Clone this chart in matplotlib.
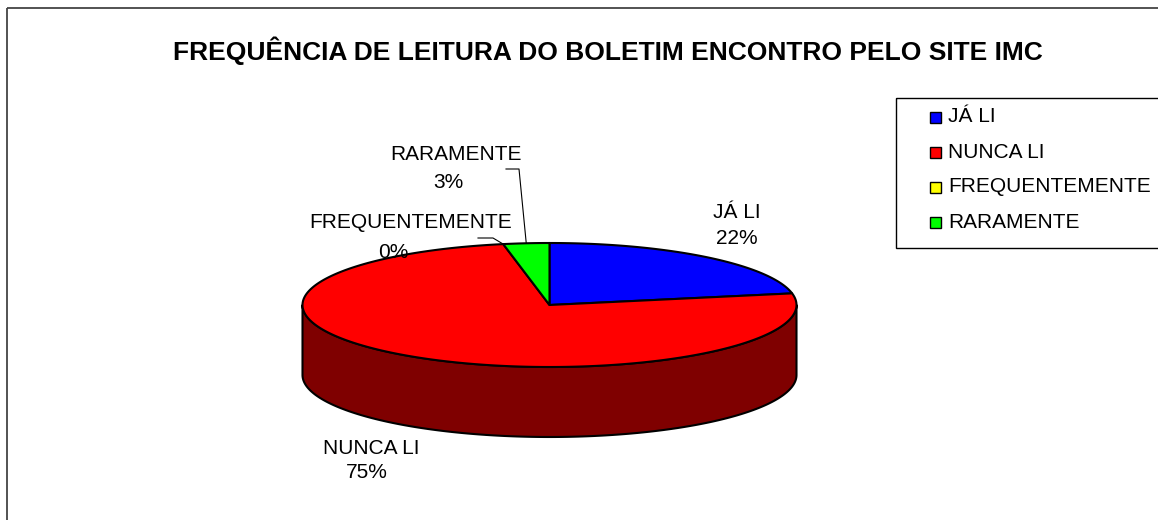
import numpy as np
import matplotlib
matplotlib.use("Agg")
import matplotlib.pyplot as plt
from matplotlib.patches import Polygon, Rectangle

plt.rcParams["font.family"] = ["Liberation Sans", "DejaVu Sans"]

# dados do gráfico
categorias = ["JÁ LI", "NUNCA LI", "FREQUENTEMENTE", "RARAMENTE"]
valores = [22, 75, 0, 3]
cores = ["#0000FF", "#FF0000", "#FFFF00", "#00FF00"]
cores_lado = ["#000080", "#7F0000", "#808000", "#008000"]
titulo = "FREQUÊNCIA DE LEITURA DO BOLETIM ENCONTRO PELO SITE IMC"

# geometria da pizza 3D (pixels)
cx, cy = 549.5, 305
rx, ry = 247, 62
depth = 70

fig = plt.figure(figsize=(11.58, 5.2), dpi=100)
ax = fig.add_axes([0, 0, 1, 1])
ax.set_xlim(0, 1158)
ax.set_ylim(520, 0)
ax.axis("off")

# moldura externa
ax.add_patch(Rectangle((7, 8), 1170, 530, fill=False, ec="#444444", lw=1.3))

ax.text(607.5, 51, titulo, ha="center", va="center", fontsize=19, fontweight="bold")


def ponto(ang, dy=0):
    a = np.deg2rad(ang)
    return cx + rx * np.sin(a), cy - ry * np.cos(a) + dy


total = sum(valores)
fracs = np.array(valores) / total
inicio = np.concatenate([[0], np.cumsum(fracs)[:-1]]) * 360
fim = np.cumsum(fracs) * 360

# lateral (somente a metade da frente)
for a0, a1, c in zip(inicio, fim, cores_lado):
    lo, hi = max(a0, 90), min(a1, 270)
    if hi <= lo:
        continue
    angs = np.linspace(lo, hi, 200)
    top = [ponto(a) for a in angs]
    bot = [ponto(a, depth) for a in angs[::-1]]
    ax.add_patch(Polygon(top + bot, closed=True, fc=c, ec="black", lw=1.5, joinstyle="round"))

# face superior
for a0, a1, c in zip(inicio, fim, cores):
    if a1 - a0 <= 0:
        continue
    angs = np.linspace(a0, a1, 300)
    pts = [(cx, cy)] + [ponto(a) for a in angs]
    ax.add_patch(Polygon(pts, closed=True, fc=c, ec="black", lw=1.5, joinstyle="round"))

# rótulos
fs = 15
pct = [f"{int(round(v))}%" for v in valores]
ax.text(737, 212, categorias[0], ha="center", va="center", fontsize=fs)
ax.text(737, 238, pct[0], ha="center", va="center", fontsize=fs)
ax.text(371, 448, categorias[1], ha="center", va="center", fontsize=fs)
ax.text(367, 473, pct[1], ha="center", va="center", fontsize=fs)
ax.text(411, 223, categorias[2], ha="center", va="center", fontsize=fs)
ax.text(393, 253, pct[2], ha="center", va="center", fontsize=fs)
ax.text(456, 155, categorias[3], ha="center", va="center", fontsize=fs)
ax.text(448, 183, pct[3], ha="center", va="center", fontsize=fs)

# linhas de chamada
px, py = ponto(fim[1])
ax.plot([478, 493, px], [238, 238, py], color="black", lw=0.8)
px, py = ponto((inicio[3] + fim[3]) / 2 - 360)
ax.plot([506, 519, px], [169, 169, py], color="black", lw=0.8)

# legenda
ax.add_patch(Rectangle((896, 98), 300, 150, fill=False, ec="black", lw=1.0))
for i, (nome, c) in enumerate(zip(categorias, cores)):
    yy = 117 + 35 * i
    ax.add_patch(Rectangle((930, yy - 5.5), 11, 11, fc=c, ec="black", lw=1.0))
    ax.text(948, yy, nome, ha="left", va="center", fontsize=fs)

fig.savefig("out.png", dpi=100)
